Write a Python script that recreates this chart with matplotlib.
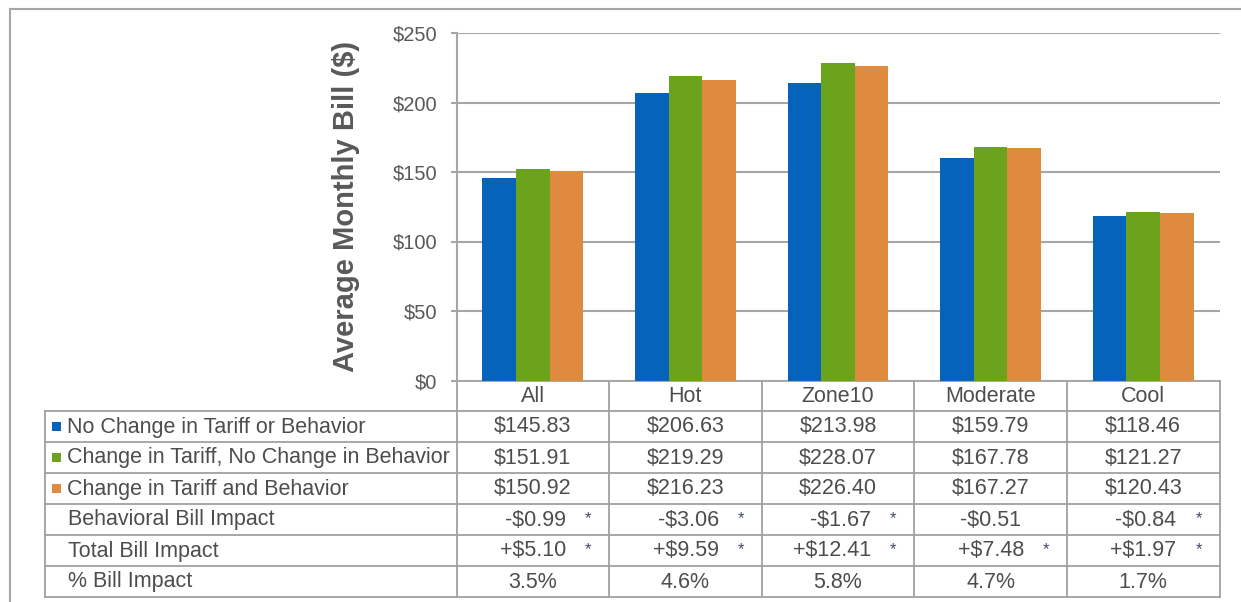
import matplotlib
matplotlib.use("Agg")
import matplotlib.pyplot as plt
import numpy as np

plt.rcParams['font.family'] = ['Liberation Sans', 'DejaVu Sans']

categories = ["All", "Hot", "Zone10", "Moderate", "Cool"]
series_names = [
    "No Change in Tariff or Behavior",
    "Change in Tariff, No Change in Behavior",
    "Change in Tariff and Behavior",
]
no_change = [145.83, 206.63, 213.98, 159.79, 118.46]
tariff_only = [151.91, 219.29, 228.07, 167.78, 121.27]
tariff_behavior = [150.92, 216.23, 226.40, 167.27, 120.43]
behavioral_impact = ["-$0.99", "-$3.06", "-$1.67", "-$0.51", "-$0.84"]
behavioral_sig = [True, True, True, False, True]
total_impact = ["+$5.10", "+$9.59", "+$12.41", "+$7.48", "+$1.97"]
total_sig = [True, True, True, True, True]
pct_impact = ["3.5%", "4.6%", "5.8%", "4.7%", "1.7%"]
y_ticks = [0, 50, 100, 150, 200, 250]

colors = ["#0563BB", "#6BA41C", "#DE8B40"]
text_c = "#595959"
grid_c = "#A6A6A6"
line_c = "#A0A0A0"

W, H = 1241, 602
fig = plt.figure(figsize=(W / 100, H / 100), dpi=100)

# overlay in pixel coordinates for the frame and the data table
ov = fig.add_axes([0, 0, 1, 1], zorder=0)
ov.set_xlim(0, W)
ov.set_ylim(H, 0)
ov.axis("off")

# chart area
x0, x1 = 456.5, 1219.5
y_top, y_zero = 33.0, 380.5
ax = fig.add_axes([x0 / W, 1 - y_zero / H, (x1 - x0) / W, (y_zero - y_top) / H], zorder=1)
ax.patch.set_alpha(0)

series = [no_change, tariff_only, tariff_behavior]
x = np.arange(len(categories))
bw = 0.22
for i, (vals, c) in enumerate(zip(series, colors)):
    ax.bar(x + (i - 1) * bw, vals, width=bw, color=c, zorder=3)

ax.set_xlim(-0.5, len(categories) - 0.5)
ax.set_ylim(0, 250)
ax.set_yticks(y_ticks)
ax.set_yticklabels([f"${v}" for v in y_ticks], fontsize=14.5, color=text_c)
ax.set_xticks([])
ax.yaxis.grid(True, color=grid_c, linewidth=1.5, zorder=0)
for s in ["top", "right", "bottom"]:
    ax.spines[s].set_visible(False)
ax.spines["left"].set_color(grid_c)
ax.spines["left"].set_linewidth(1.5)
ax.tick_params(axis="y", length=4, width=1.5, color=grid_c, pad=10)
ax.set_ylabel("Average Monthly Bill ($)", fontsize=21, fontweight="bold",
              color=text_c, labelpad=23)

# outer frame
ov.plot([10, 10], [9, H + 5], color=grid_c, lw=1.5)
ov.plot([10, W + 5], [9, 9], color=grid_c, lw=1.5)

# table geometry
tab_left = 44.5
col_w = (x1 - x0) / len(categories)
col_edges = [x0 + k * col_w for k in range(len(categories) + 1)]
row_h = 31.0
hdr_top = y_zero
hdr_bot = hdr_top + 30.0
row_edges = [hdr_bot + k * row_h for k in range(7)]

lw = 1.3
# axis baseline extends over the header row
ov.plot([x0 - 4, x1], [hdr_top, hdr_top], color=line_c, lw=lw)
for ye in row_edges:
    ov.plot([tab_left, x1], [ye, ye], color=line_c, lw=lw)
for xe in col_edges:
    ov.plot([xe, xe], [hdr_top, row_edges[-1]], color=line_c, lw=lw)
ov.plot([tab_left, tab_left], [row_edges[0], row_edges[-1]], color=line_c, lw=lw)

fs = 15.5
val_c = "#4D4D4D"
centers = [(col_edges[k] + col_edges[k + 1]) / 2 for k in range(len(categories))]

for k, cat in enumerate(categories):
    ov.text(centers[k], (hdr_top + hdr_bot) / 2 + 1, cat, ha="center", va="center",
            fontsize=fs, color=val_c)

row_mid = [(row_edges[r] + row_edges[r + 1]) / 2 + 1 for r in range(6)]

# series rows with colour keys
for r, (name, vals, c) in enumerate(zip(series_names, series, colors)):
    ov.add_patch(plt.Rectangle((52, row_mid[r] - 5), 9, 9, color=c, lw=0))
    ov.text(67, row_mid[r], name, ha="left", va="center", fontsize=fs, color=val_c)
    for k, v in enumerate(vals):
        ov.text(centers[k], row_mid[r], f"${v:.2f}", ha="center", va="center",
                fontsize=fs, color=val_c)

row_labels = ["Behavioral Bill Impact", "Total Bill Impact", "% Bill Impact"]
for j, lab in enumerate(row_labels):
    ov.text(68, row_mid[3 + j], lab, ha="left", va="center", fontsize=fs, color=val_c)


def impact_row(r, vals, sig):
    for k, (v, s) in enumerate(zip(vals, sig)):
        if s:
            ov.text(col_edges[k + 1] - 43, row_mid[r], v, ha="right", va="center",
                    fontsize=fs, color=val_c)
            ov.text(col_edges[k + 1] - 21, row_mid[r] - 1, "*", ha="center", va="center",
                    fontsize=12, color="#3F4A66")
        else:
            ov.text(centers[k], row_mid[r], v, ha="center", va="center",
                    fontsize=fs, color=val_c)


impact_row(3, behavioral_impact, behavioral_sig)
impact_row(4, total_impact, total_sig)
for k, v in enumerate(pct_impact):
    ov.text(centers[k], row_mid[5], v, ha="center", va="center", fontsize=fs, color=val_c)

fig.savefig("out.png", dpi=100)
